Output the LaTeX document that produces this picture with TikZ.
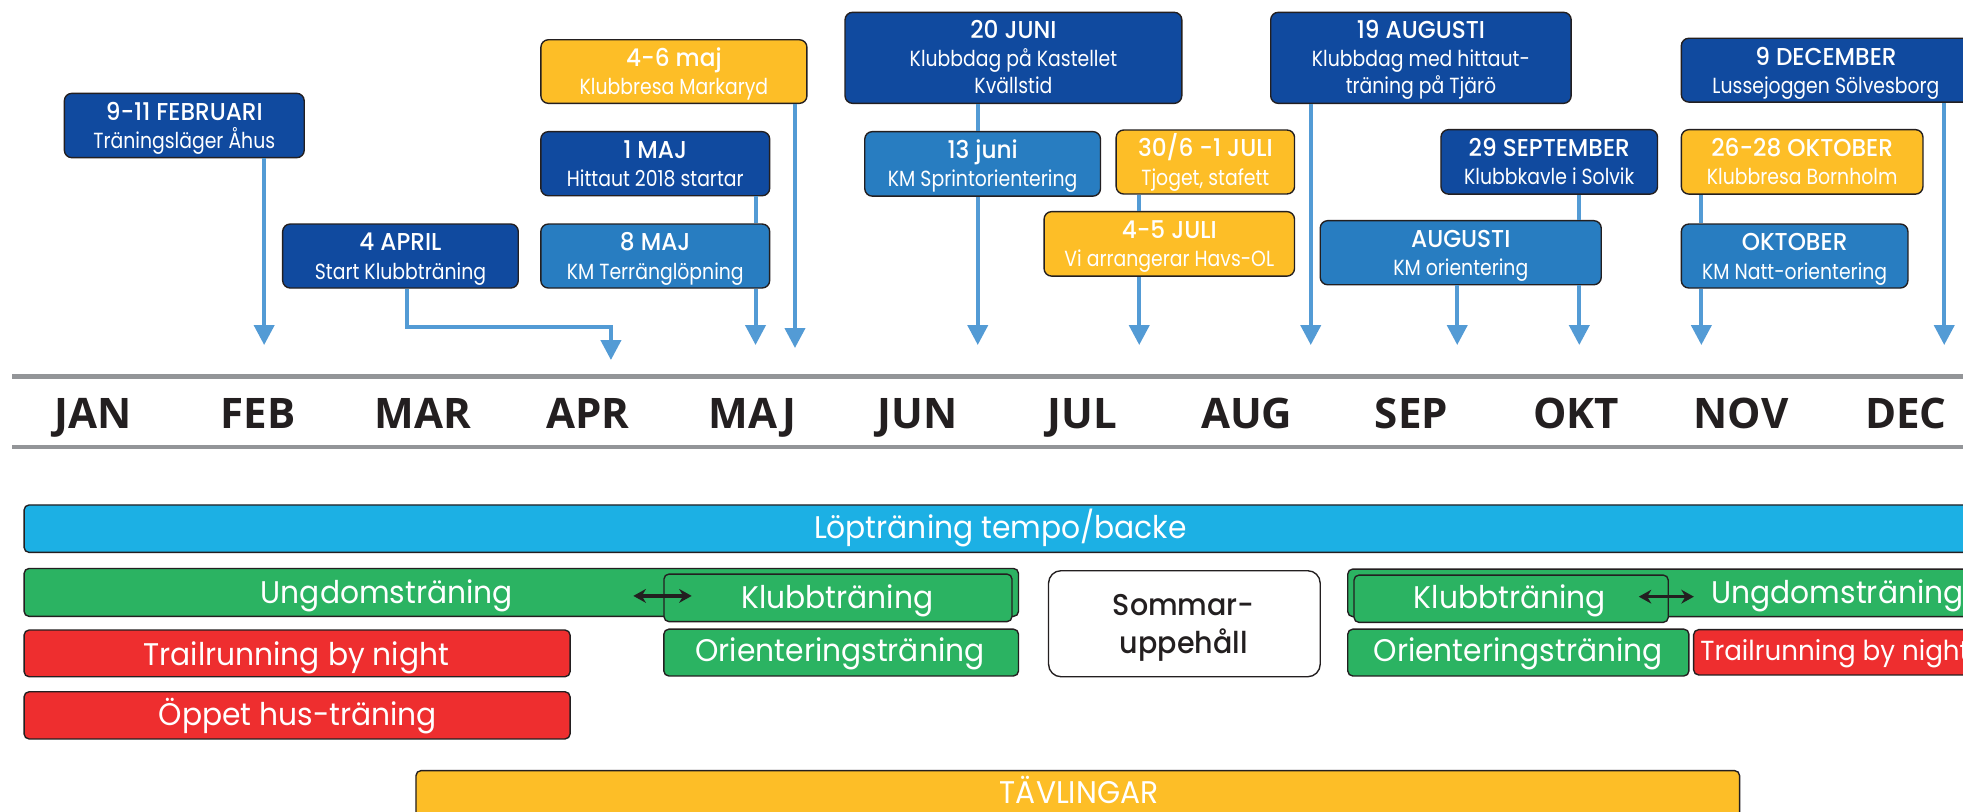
\documentclass[tikz,border=0pt]{standalone}
\usepackage{fontspec}
\usetikzlibrary{arrows.meta}
\newfontfamily\futsub{Poppins}[FakeStretch=0.86]
\newfontfamily\futbar{Poppins}[FakeStretch=0.95]
\newfontfamily\futtit{Poppins}[FakeStretch=0.95,UprightFont=* Medium]
\newfontfamily\monfont{Open Sans}
\definecolor{navy}{HTML}{104A9F}
\definecolor{mblue}{HTML}{287DC1}
\definecolor{yel}{HTML}{FDBE27}
\definecolor{arrblue}{HTML}{539BD5}
\definecolor{cyanbar}{HTML}{1CB0E4}
\definecolor{grn}{HTML}{2BB362}
\definecolor{redbar}{HTML}{EE2E2F}
\definecolor{tlgray}{HTML}{939598}
\definecolor{ink}{HTML}{231F20}
\tikzset{
 ebox/.style={draw=ink, line width=1.1pt, rounded corners=6pt, inner sep=0pt, anchor=north},
 etit/.style={text=white, font=\futtit\fontsize{19.5}{22}\selectfont, inner sep=0pt, anchor=base},
 esub/.style={text=white, font=\futsub\fontsize{17.5}{20}\selectfont, inner sep=0pt, anchor=base},
 barbox/.style={draw=ink, line width=1.1pt, rounded corners=4pt, inner sep=0pt, anchor=north west},
 bartext/.style={text=white, font=\futbar\fontsize{25}{30}\selectfont, inner sep=0pt, anchor=base},
 arr/.style={draw=arrblue, line width=3.2pt, -{Triangle[width=16pt,length=16pt]}},
 link/.style={draw=arrblue, line width=3.2pt},
 dblarr/.style={draw=ink, line width=2.6pt, {Stealth[length=10pt,width=11pt]}-{Stealth[length=10pt,width=11pt]}},
 mon/.style={text=ink, font=\monfont\bfseries\fontsize{33.6}{40}\selectfont, inner sep=0pt, anchor=base},
 tline/.style={draw=tlgray, line width=3.8pt},
}
\newcommand\evbox[8]{%
 \node[ebox, fill=#6, minimum width=#4, minimum height=#5] (#1) at (#2,#3) {};
 \node[etit] (#1-t) at ([yshift=-22pt]#1.north) {#7};
 \node[esub] (#1-s) at ([yshift=-44.5pt]#1.north) {#8};
}
\newcommand\evboxiii[9]{%
 \node[ebox, fill=#6, minimum width=#4, minimum height=#5] (#1) at (#2,#3) {};
 \node[etit] (#1-t) at ([yshift=-21.3pt]#1.north) {#7};
 \node[esub] (#1-s) at ([yshift=-44pt]#1.north) {#8};
 \node[esub] (#1-u) at ([yshift=-65.5pt]#1.north) {#9};
}
\newcommand\barnode[6]{%
 \node[barbox, fill=#6, minimum width=#4-#2, minimum height=#5-#3] (#1) at (#2,#3) {};
}
\begin{document}
\begin{tikzpicture}[x=1pt,y=-1pt]
\useasboundingbox (0,0) rectangle (1568,648);
\clip (0,0) rectangle (1568,648);
\fill[white] (0,0) rectangle (1568,648);

% ---- event boxes ----
\evbox{feb}{147.2}{74}{191.6}{51.4}{navy}{9-11 FEBRUARI}{Träningsläger Åhus}
\evbox{apr}{319.9}{178.4}{188.2}{51.1}{navy}{4 APRIL}{Start Klubbträning}
\evbox{majA}{538.3}{31.2}{212.5}{50.8}{yel}{4-6 maj}{Klubbresa Markaryd}
\evbox{majB}{523.4}{104.6}{182.8}{51.2}{navy}{1 MAJ}{Hittaut 2018 startar}
\evbox{majC}{523.4}{178.4}{182.8}{51.1}{mblue}{8 MAJ}{KM Terränglöpning}
\evboxiii{junA}{809.5}{9.3}{269}{72.7}{navy}{20 JUNI}{Klubbdag på Kastellet}{Kvällstid}
\evbox{junB}{784.9}{104.6}{188.3}{51.5}{mblue}{13 juni}{KM Sprintorientering}
\evbox{julA}{962.8}{103.3}{142.5}{51.1}{yel}{30/6 -1 JULI}{Tjoget, stafett}
\evbox{julB}{934}{168.5}{200}{51.5}{yel}{4-5 JULI}{Vi arrangerar Havs-OL}
\evboxiii{augA}{1135}{9.3}{240}{72.7}{navy}{19 AUGUSTI}{Klubbdag med hittaut-}{träning på Tjärö}
\evbox{sep}{1237.5}{103}{173}{51.5}{navy}{29 SEPTEMBER}{Klubbkavle i Solvik}
\evbox{augB}{1166.8}{175.7}{224.5}{51.2}{mblue}{AUGUSTI}{KM orientering}
\evbox{dec}{1458.5}{30}{231}{51}{navy}{9 DECEMBER}{Lussejoggen Sölvesborg}
\evbox{oktA}{1439.5}{103}{193}{51.5}{yel}{26-28 OKTOBER}{Klubbresa Bornholm}
\evbox{oktB}{1433.5}{178.4}{181}{51.1}{mblue}{OKTOBER}{KM Natt-orientering}

% ---- connectors ----
\coordinate (tFeb) at (211,275.6);
\coordinate (tAprC) at (325,261);
\coordinate (tApr) at (488,287.6);
\coordinate (tMajA) at (635,278);
\coordinate (tMajC) at (603.5,275.6);
\coordinate (tJun) at (781,275.6);
\coordinate (tJul) at (910,275.6);
\coordinate (tAugA) at (1047,275.6);
\coordinate (tAugB) at (1164,275.6);
\coordinate (tSep) at (1261.5,275.6);
\coordinate (tOkt) at (1359,275.6);
\coordinate (tDec) at (1553,275.6);

\draw[arr] (tFeb |- feb.south) -- (tFeb);
\draw[arr] (tAprC |- apr.south) -- (tAprC) -| (tApr);
\draw[arr] (tMajA |- majA.south) -- (tMajA);
\draw[link] (tMajC |- majB.south) -- (tMajC |- majC.north);
\draw[arr] (tMajC |- majC.south) -- (tMajC);
\draw[link] (tJun |- junA.south) -- (tJun |- junB.north);
\draw[arr] (tJun |- junB.south) -- (tJun);
\draw[link] (tJul |- julA.south) -- (tJul |- julB.north);
\draw[arr] (tJul |- julB.south) -- (tJul);
\draw[arr] (tAugA |- augA.south) -- (tAugA);
\draw[link] (tSep |- sep.south) -- (tSep |- augB.north);
\draw[arr] (tSep |- augB.south) -- (tSep);
\draw[arr] (tAugB |- augB.south) -- (tAugB);
\draw[link] (tOkt |- oktA.south) -- (tOkt |- oktB.north);
\draw[arr] (tOkt |- oktB.south) -- (tOkt);
\draw[arr] (tDec |- dec.south) -- (tDec);

% ---- timeline ----
\coordinate (tlA) at (9.6,300.8);
\coordinate (tlB) at (1600,300.8);
\coordinate (tlC) at (9.6,357);
\coordinate (tlD) at (1600,357);
\draw[tline] (tlA) -- (tlB);
\draw[tline] (tlC) -- (tlD);
\node[mon] (m1) at (74.7,342) {JAN};
\node[mon] (m2) at (206.3,342) {FEB};
\node[mon] (m3) at (337.9,342) {MAR};
\node[mon] (m4) at (469.5,342) {APR};
\node[mon] (m5) at (601.1,342) {MAJ};
\node[mon] (m6) at (732.7,342) {JUN};
\node[mon] (m7) at (864.3,342) {JUL};
\node[mon] (m8) at (995.9,342) {AUG};
\node[mon] (m9) at (1127.5,342) {SEP};
\node[mon] (m10) at (1259.1,342) {OKT};
\node[mon] (m11) at (1390.7,342) {NOV};
\node[mon] (m12) at (1522.3,342) {DEC};

% ---- bars ----
\barnode{lop}{18.7}{402.8}{1600}{440.7}{cyanbar}
\node[bartext] (lopT) at (799,430) {Löpträning tempo/backe};

\barnode{ungA}{18.7}{453.5}{813}{491.8}{grn}
\node[bartext] (ungAT) at (309,482) {Ungdomsträning};
\barnode{klubA}{529.8}{458}{807.8}{496}{grn}
\node[bartext] (klubAT) at (668.8,485.9) {Klubbträning};
\coordinate (dA1) at (505.9,476);
\coordinate (dA2) at (552.5,476);
\draw[dblarr] (dA1) -- (dA2);

\barnode{trailA}{18.7}{502.7}{454.8}{540}{redbar}
\node[bartext] (trailAT) at (236.7,531.2) {Trailrunning by night};
\barnode{oppet}{18.7}{552}{454.8}{589.7}{redbar}
\node[bartext] (oppetT) at (238,579.7) {Öppet hus-träning};
\barnode{oriA}{529.7}{502}{813}{539.4}{grn}
\node[bartext] (oriAT) at (671,528.5) {Orienteringsträning};

\node[barbox, fill=white, rounded corners=10pt, minimum width=217, minimum height=84.7] (somm) at (837,455.3) {};
\node[font=\futtit\fontsize{24}{30}\selectfont, text=ink, inner sep=0pt, anchor=base] (sommT1) at (945.5,491.3) {Sommar-};
\node[font=\futtit\fontsize{24}{30}\selectfont, text=ink, inner sep=0pt, anchor=base] (sommT2) at (945.5,521.9) {uppehåll};

\barnode{ungB}{1076}{454}{1600}{492}{grn}
\node[bartext, anchor=base west] (ungBT) at (1367,482) {Ungdomsträning};
\barnode{klubB}{1081}{458.8}{1332}{496.6}{grn}
\node[bartext] (klubBT) at (1206,486) {Klubbträning};
\coordinate (dB1) at (1309,476.6);
\coordinate (dB2) at (1353,476.6);
\draw[dblarr] (dB1) -- (dB2);
\barnode{oriB}{1076}{502}{1348.5}{539.4}{grn}
\node[bartext] (oriBT) at (1212.7,528.5) {Orienteringsträning};
\barnode{trailB}{1352.3}{502.4}{1600}{538.6}{redbar}
\node[bartext, anchor=base west, font=\futbar\fontsize{22}{26}\selectfont] (trailBT) at (1358,527.2) {Trailrunning by night};

\barnode{tav}{331.7}{615}{1389}{700}{yel}
\node[bartext] (tavT) at (862,641.7) {TÄVLINGAR};
\end{tikzpicture}
\end{document}
